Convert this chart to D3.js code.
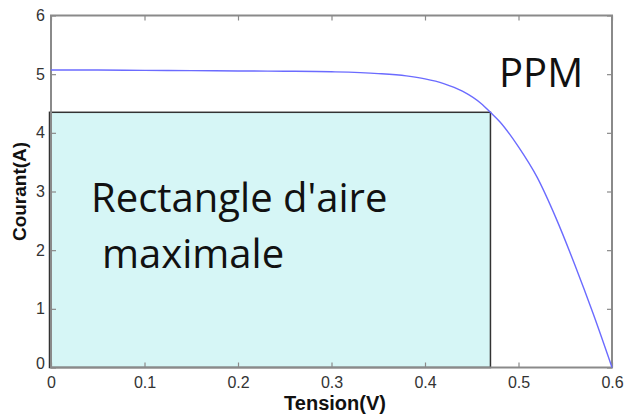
<!DOCTYPE html>
<html lang="en">
<head>
<meta charset="utf-8">
<title>Courbe I-V</title>
<script src="https://cdn.jsdelivr.net/npm/d3@7"></script>
<style>
  body { margin: 0; background: #fff; }
  svg { display: block; }
  .tick text { font-family: "Liberation Sans", Arial, sans-serif; font-size: 16px; fill: #333; }
  .big { font-family: "Open Sans", "Noto Sans", sans-serif; fill: #111; }
  .title { font-family: "Liberation Sans", Arial, sans-serif; font-weight: bold; fill: #111; }
</style>
</head>
<body>
<svg id="chart"></svg>
<script>
// I-V curve of the cell
const tension = [0, 0.05, 0.1, 0.15, 0.2, 0.25, 0.3, 0.35, 0.38, 0.4, 0.42, 0.44, 0.46, 0.47, 0.48, 0.5, 0.52, 0.54, 0.56, 0.58, 0.6];
const courant = [5.07, 5.07, 5.065, 5.06, 5.055, 5.05, 5.04, 5.01, 4.97, 4.92, 4.84, 4.71, 4.50, 4.35, 4.19, 3.76, 3.24, 2.55, 1.76, 0.91, 0];
const xTicks = [0, 0.1, 0.2, 0.3, 0.4, 0.5, 0.6];
const yTicks = [0, 1, 2, 3, 4, 5, 6];
// maximum power point
const ppmV = 0.47, ppmI = 4.35;

const width = 625, height = 414;
const margin = {top: 15.5, right: 13, bottom: 46.5, left: 51};

const svg = d3.select('#chart')
  .attr('width', width)
  .attr('height', height);

const x = d3.scaleLinear().domain([0, 0.6]).range([margin.left, width - margin.right]);
const y = d3.scaleLinear().domain([0, 6]).range([height - margin.bottom, margin.top]);

// rectangle d'aire maximale
svg.append('rect')
  .attr('x', x(0) - 1.5)
  .attr('y', y(ppmI))
  .attr('width', x(ppmV) - x(0) + 1.5)
  .attr('height', y(0) - y(ppmI))
  .attr('fill', '#d6f6f6')
  .attr('stroke', '#333')
  .attr('stroke-width', 1.5);

// frame
svg.append('rect')
  .attr('x', x(0)).attr('y', y(6))
  .attr('width', x(0.6) - x(0)).attr('height', y(0) - y(6))
  .attr('fill', 'none')
  .attr('stroke', '#8a8a8a')
  .attr('stroke-width', 2);

// axes, ticks pointing inward
const axBottom = svg.append('g')
  .attr('transform', `translate(0,${y(0)})`)
  .call(d3.axisBottom(x).tickValues(xTicks).tickSize(-5).tickPadding(9).tickFormat(d => d));
const axTop = svg.append('g')
  .attr('transform', `translate(0,${y(6)})`)
  .call(d3.axisTop(x).tickValues(xTicks).tickSize(-5).tickFormat(''));
const axLeft = svg.append('g')
  .attr('transform', `translate(${x(0)},0)`)
  .call(d3.axisLeft(y).tickValues(yTicks).tickSize(-5).tickPadding(6).tickFormat(d3.format('d')));
const axRight = svg.append('g')
  .attr('transform', `translate(${x(0.6)},0)`)
  .call(d3.axisRight(y).tickValues(yTicks).tickSize(-5).tickFormat(''));

[axBottom, axTop, axLeft, axRight].forEach(g => {
  g.select('.domain').remove();
  g.selectAll('.tick line').attr('stroke', '#8a8a8a').attr('stroke-width', 1.2);
});
axLeft.selectAll('.tick').filter(d => d === 0).select('text').attr('dy', '0.05em');

// curve
svg.append('path')
  .datum(tension.map((v, i) => [v, courant[i]]))
  .attr('fill', 'none')
  .attr('stroke', '#6b6bff')
  .attr('stroke-width', 1.4)
  .attr('d', d3.line().x(d => x(d[0])).y(d => y(d[1])).curve(d3.curveMonotoneX));

// axis titles
svg.append('text').attr('class', 'title')
  .attr('x', 335).attr('y', 410)
  .attr('text-anchor', 'middle')
  .style('font-size', '20px')
  .text('Tension(V)');

svg.append('text').attr('class', 'title')
  .attr('transform', `translate(26,${y(3)}) rotate(-90)`)
  .attr('text-anchor', 'middle')
  .style('font-size', '19px')
  .text('Courant(A)');

// annotations
svg.append('text').attr('class', 'big')
  .attr('x', 91).attr('y', 212)
  .style('font-size', '40px')
  .text("Rectangle d'aire");
svg.append('text').attr('class', 'big')
  .attr('x', 102).attr('y', 268)
  .style('font-size', '40px')
  .text('maximale');
svg.append('text').attr('class', 'big')
  .attr('x', 499).attr('y', 87)
  .style('font-size', '40px')
  .text('PPM');
</script>
</body>
</html>
